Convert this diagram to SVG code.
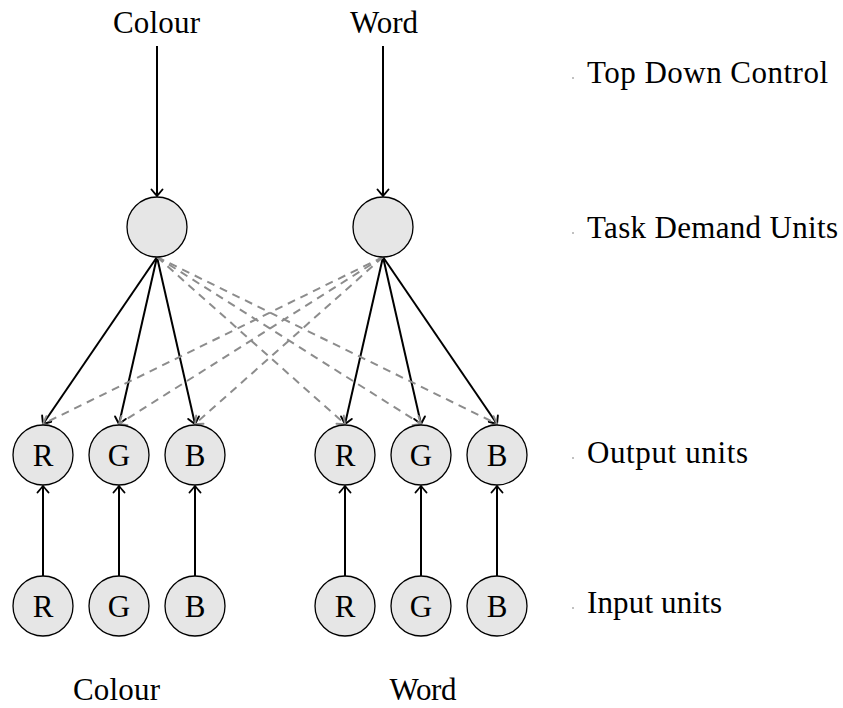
<svg xmlns="http://www.w3.org/2000/svg" width="843" height="708" viewBox="0 0 843 708">
  <style>
    .unit { fill: #e6e6e6; stroke: #000; stroke-width: 1.3; }
    .lbl { font-family: "Liberation Serif", "Times New Roman", serif; font-size: 31px; fill: #000; }
    .mid { text-anchor: middle; }
    .solid { stroke: #000; stroke-width: 2; fill: none; marker-end: url(#tipBlack); }
    .dash { stroke: #8c8c8c; stroke-width: 2; fill: none; stroke-dasharray: 8 6; marker-end: url(#tipGray); }
    .dot { fill: #555; }
  </style>
  <defs>
    <marker id="tipBlack" markerUnits="userSpaceOnUse" markerWidth="14" markerHeight="14" viewBox="-8 -7 10 14" refX="0" refY="0" orient="auto">
      <path d="M -6.5 -5.5 Q -1.5 -1.3 0 0 Q -1.5 1.3 -6.5 5.5" fill="none" stroke="#000" stroke-width="1.9" stroke-linecap="round"/>
    </marker>
    <marker id="tipGray" markerUnits="userSpaceOnUse" markerWidth="14" markerHeight="14" viewBox="-8 -7 10 14" refX="0" refY="0" orient="auto">
      <path d="M -6.5 -5.5 Q -1.5 -1.3 0 0 Q -1.5 1.3 -6.5 5.5" fill="none" stroke="#8c8c8c" stroke-width="1.9" stroke-linecap="round"/>
    </marker>
  </defs>

  <rect width="843" height="708" fill="#fff"/>

  <!-- connectors -->
  <g id="connectors">
    <!-- top-down control into task demand units -->
    <line class="solid" x1="157" y1="46" x2="157" y2="196"/>
    <line class="solid" x1="383" y1="46" x2="383" y2="196"/>
    <!-- colour task -> colour outputs -->
    <line class="solid" x1="157" y1="257" x2="43" y2="424"/>
    <line class="solid" x1="157" y1="257" x2="119" y2="424"/>
    <line class="solid" x1="157" y1="257" x2="195" y2="424"/>
    <!-- word task -> word outputs -->
    <line class="solid" x1="383" y1="257" x2="345" y2="424"/>
    <line class="solid" x1="383" y1="257" x2="421" y2="424"/>
    <line class="solid" x1="383" y1="257" x2="497" y2="424"/>
    <!-- cross links (inhibitory) -->
    <line class="dash" x1="157" y1="257" x2="345" y2="424"/>
    <line class="dash" x1="157" y1="257" x2="421" y2="424"/>
    <line class="dash" x1="157" y1="257" x2="497" y2="424"/>
    <line class="dash" x1="383" y1="257" x2="43" y2="424"/>
    <line class="dash" x1="383" y1="257" x2="119" y2="424"/>
    <line class="dash" x1="383" y1="257" x2="195" y2="424"/>
    <!-- inputs -> outputs -->
    <line class="solid" x1="43" y1="576" x2="43" y2="486"/>
    <line class="solid" x1="119" y1="576" x2="119" y2="486"/>
    <line class="solid" x1="195" y1="576" x2="195" y2="486"/>
    <line class="solid" x1="345" y1="576" x2="345" y2="486"/>
    <line class="solid" x1="421" y1="576" x2="421" y2="486"/>
    <line class="solid" x1="497" y1="576" x2="497" y2="486"/>
  </g>

  <!-- control labels -->
  <g id="ctrl-colour"><text class="lbl mid" x="156.5" y="33" textLength="87">Colour</text></g>
  <g id="ctrl-word"><text class="lbl mid" x="384" y="33" textLength="68">Word</text></g>

  <!-- task demand units -->
  <g id="task-colour"><circle class="unit" cx="157" cy="227" r="30"/></g>
  <g id="task-word"><circle class="unit" cx="383" cy="227" r="30"/></g>

  <!-- output units -->
  <g id="out-colour-r"><circle class="unit" cx="43" cy="455" r="30"/><text class="lbl mid" x="43" y="465.5">R</text></g>
  <g id="out-colour-g"><circle class="unit" cx="119" cy="455" r="30"/><text class="lbl mid" x="119" y="465.5">G</text></g>
  <g id="out-colour-b"><circle class="unit" cx="195" cy="455" r="30"/><text class="lbl mid" x="195" y="465.5">B</text></g>
  <g id="out-word-r"><circle class="unit" cx="345" cy="455" r="30"/><text class="lbl mid" x="345" y="465.5">R</text></g>
  <g id="out-word-g"><circle class="unit" cx="421" cy="455" r="30"/><text class="lbl mid" x="421" y="465.5">G</text></g>
  <g id="out-word-b"><circle class="unit" cx="497" cy="455" r="30"/><text class="lbl mid" x="497" y="465.5">B</text></g>

  <!-- input units -->
  <g id="in-colour-r"><circle class="unit" cx="43" cy="606" r="30"/><text class="lbl mid" x="43" y="616.5">R</text></g>
  <g id="in-colour-g"><circle class="unit" cx="119" cy="606" r="30"/><text class="lbl mid" x="119" y="616.5">G</text></g>
  <g id="in-colour-b"><circle class="unit" cx="195" cy="606" r="30"/><text class="lbl mid" x="195" y="616.5">B</text></g>
  <g id="in-word-r"><circle class="unit" cx="345" cy="606" r="30"/><text class="lbl mid" x="345" y="616.5">R</text></g>
  <g id="in-word-g"><circle class="unit" cx="421" cy="606" r="30"/><text class="lbl mid" x="421" y="616.5">G</text></g>
  <g id="in-word-b"><circle class="unit" cx="497" cy="606" r="30"/><text class="lbl mid" x="497" y="616.5">B</text></g>

  <!-- stimulus labels -->
  <g id="stim-colour"><text class="lbl mid" x="116.5" y="700" textLength="87">Colour</text></g>
  <g id="stim-word"><text class="lbl mid" x="423" y="700" textLength="67">Word</text></g>

  <!-- layer labels -->
  <g id="layer-top"><circle class="dot" cx="573" cy="78" r="0.7"/><text class="lbl" x="587" y="83" textLength="241">Top Down Control</text></g>
  <g id="layer-task"><circle class="dot" cx="573" cy="233" r="0.7"/><text class="lbl" x="587" y="238" textLength="251">Task Demand Units</text></g>
  <g id="layer-output"><circle class="dot" cx="573" cy="458" r="0.7"/><text class="lbl" x="587" y="463" textLength="161">Output units</text></g>
  <g id="layer-input"><circle class="dot" cx="573" cy="608" r="0.7"/><text class="lbl" x="587" y="613" textLength="135">Input units</text></g>
</svg>
